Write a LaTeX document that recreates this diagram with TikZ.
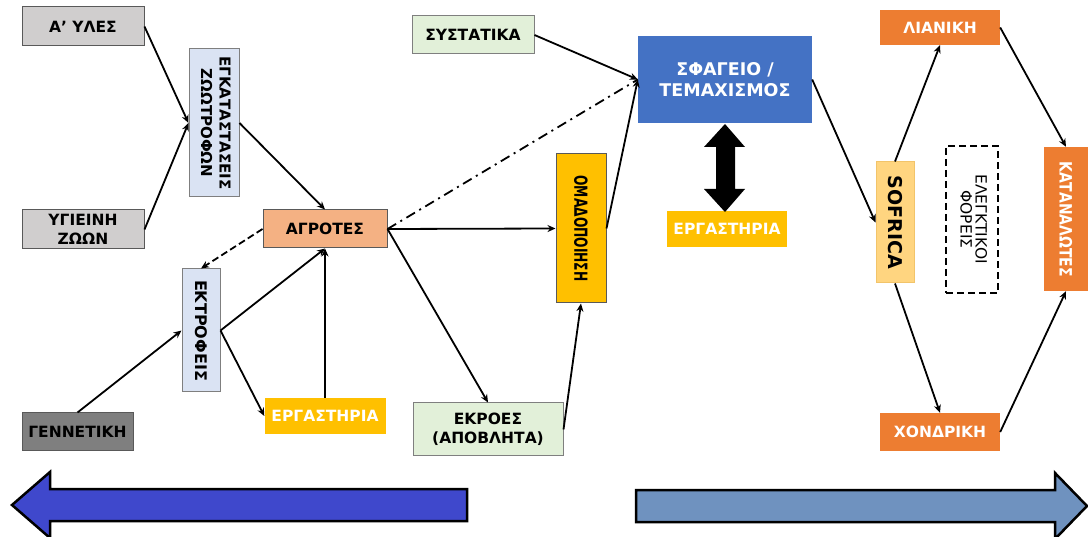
\documentclass[tikz,border=0pt]{standalone}
\usepackage{fontspec}
\setmainfont{DejaVu Sans}
\usepackage{graphicx}
\usetikzlibrary{arrows.meta}
\definecolor{gbox}{HTML}{D0CECE}
\definecolor{gdark}{HTML}{7F7F7F}
\definecolor{bord}{HTML}{595959}
\definecolor{lblue}{HTML}{DAE3F3}
\definecolor{salmon}{HTML}{F4B183}
\definecolor{gold}{HTML}{FFC000}
\definecolor{lgreen}{HTML}{E2F0D9}
\definecolor{mblue}{HTML}{4472C4}
\definecolor{orng}{HTML}{ED7D31}
\definecolor{lorng}{HTML}{FFD580}
\definecolor{lorngb}{HTML}{F2C46A}
\definecolor{arrL}{HTML}{3F48CC}
\definecolor{arrR}{HTML}{6F92BF}
\newcommand\rtxt[2][18.5pt]{\rotatebox{-90}{\begin{tabular}{@{}c@{}}\setlength\baselineskip{#1}#2\end{tabular}}}
\tikzset{
  bx/.style={draw=bord, line width=1pt, inner sep=0pt, align=center,
    font=\fontsize{15.5}{18.5}\selectfont\bfseries},
  plain/.style={inner sep=0pt, align=center, text=white,
    font=\fontsize{15.5}{18.5}\selectfont\bfseries},
  con/.style={line width=1.8pt, -{Stealth[length=8pt,width=7pt]}},
  bigarr/.style={draw=black, line width=2.5pt, line join=miter}
}
\begin{document}
\begin{tikzpicture}[x=1pt,y=-1pt]
\useasboundingbox (0,0) rectangle (1088,537);
\clip (0,0) rectangle (1088,537);
% nodes
\node[bx, fill=gbox, minimum width=122pt, minimum height=39pt] (aules) at (83,26.5) {Α’ ΥΛΕΣ};
\node[bx, fill=gbox, minimum width=122pt, minimum height=39pt] (ygieini) at (83,229.5) {ΥΓΙΕΙΝΗ\\ΖΩΩΝ};
\node[bx, draw=gdark, fill=lblue, minimum width=50pt, minimum height=148pt] (egk) at (214,123)
  {\rtxt{\fontsize{15}{18.5}\selectfont ΕΓΚΑΤΑΣΤΑΣΕΙΣ\\\fontsize{15}{18.5}\selectfont ΖΩΩΤΡΟΦΩΝ}};
\node[bx, fill=salmon, minimum width=124pt, minimum height=38pt] (agrotes) at (325,229) {ΑΓΡΟΤΕΣ};
\node[bx, draw=gdark, fill=lblue, minimum width=38pt, minimum height=123pt] (ektrofeis) at (201,330.5)
  {\rotatebox{-90}{\fontsize{16}{18}\selectfont ΕΚΤΡΟΦΕΙΣ}};
\node[bx, fill=gdark, minimum width=111pt, minimum height=38pt] (genetiki) at (77.5,432) {ΓΕΝΝΕΤΙΚΗ};
\node[plain, fill=gold, minimum width=121pt, minimum height=36pt] (ergL) at (325,416) {ΕΡΓΑΣΤΗΡΙΑ};
\node[bx, draw=gdark, fill=lgreen, minimum width=122pt, minimum height=38pt] (systatika) at (473,35) {ΣΥΣΤΑΤΙΚΑ};
\node[plain, fill=mblue, minimum width=174pt, minimum height=87pt,
  font=\fontsize{17.5}{21.5}\selectfont\bfseries] (sfageio) at (725,79.5) {ΣΦΑΓΕΙΟ /\\ΤΕΜΑΧΙΣΜΟΣ};
\node[plain, fill=gold, minimum width=120pt, minimum height=36pt] (ergM) at (727,229) {ΕΡΓΑΣΤΗΡΙΑ};
\node[bx, fill=gold, minimum width=50pt, minimum height=149pt] (omad) at (581,228.5)
  {\rotatebox{-90}{\scalebox{0.68}[1]{\fontsize{18}{20}\selectfont ΟΜΑΔΟΠΟΙΗΣΗ}}};
\node[bx, draw=gdark, fill=lgreen, minimum width=150pt, minimum height=53pt] (ekroes) at (488,429.5) {ΕΚΡΟΕΣ\\(ΑΠΟΒΛΗΤΑ)};
\node[plain, fill=orng, minimum width=120pt, minimum height=35pt] (lianiki) at (940,27.5) {ΛΙΑΝΙΚΗ};
\node[bx, draw=lorngb, fill=lorng, minimum width=38pt, minimum height=121pt] (sofrica) at (895,222.5)
  {\rotatebox{-90}{\fontsize{19}{22}\selectfont SOFRICA}};
\node[draw=black, dashed, dash pattern=on 7pt off 4pt, line width=1.2pt, inner sep=0pt,
  minimum width=52pt, minimum height=147pt] (elegk) at (972,219.5)
  {\rtxt[19pt]{\fontsize{15.5}{19}\selectfont ΕΛΕΓΚΤΙΚΟΙ\\\fontsize{15.5}{19}\selectfont ΦΟΡΕΙΣ}};
\node[plain, fill=orng, minimum width=44pt, minimum height=144pt] (katanal) at (1066,219)
  {\rotatebox{-90}{\scalebox{0.82}[1]{\fontsize{17}{20}\selectfont ΚΑΤΑΝΑΛΩΤΕΣ}}};
\node[plain, fill=orng, minimum width=120pt, minimum height=38pt] (xondriki) at (940,432) {ΧΟΝΔΡΙΚΗ};
% connectors
\draw[con] (aules.east) -- (egk.west);
\draw[con] (ygieini.east) -- (egk.west);
\draw[con] (egk.east) -- (agrotes.north);
\draw[con, dash pattern=on 7pt off 3.5pt] (agrotes.west) -- (ektrofeis.north);
\draw[con] (ektrofeis.east) -- (agrotes.south);
\draw[con] (ektrofeis.east) -- (ergL.west);
\draw[con] (genetiki.north) -- (ektrofeis.west);
\draw[con] (ergL.north) -- (agrotes.south);
\draw[con] (agrotes.east) -- (omad.west);
\draw[line width=1.8pt, dash pattern=on 10pt off 5pt on 2pt off 5pt] (agrotes.east) -- (sfageio.west);
\draw[con] (systatika.east) -- (sfageio.west);
\draw[con] (omad.east) -- (sfageio.west);
\draw[con] (agrotes.east) -- (ekroes.north);
\draw[con] (ekroes.east) -- (omad.south);
\draw[con] (sfageio.east) -- (sofrica.west);
\draw[con] (sofrica.north) -- (lianiki.south);
\draw[con] (sofrica.south) -- (xondriki.north);
\draw[con] (lianiki.east) -- (katanal.north);
\draw[con] (xondriki.east) -- (katanal.south);
% double arrow
\fill[black] (725,124) -- (745,147) -- (735,147) -- (735,189) -- (745,189) -- (725,212)
  -- (704,189) -- (716,189) -- (716,147) -- (704,147) -- cycle;
% bottom arrows
\draw[bigarr, fill=arrL] (12,505) -- (50,472) -- (50,489) -- (467,489) -- (467,521)
  -- (50,521) -- (50,538) -- cycle;
\draw[bigarr, fill=arrR] (1087,506) -- (1055,473) -- (1055,490) -- (636,490) -- (636,522)
  -- (1055,522) -- (1055,539) -- cycle;
\end{tikzpicture}
\end{document}
